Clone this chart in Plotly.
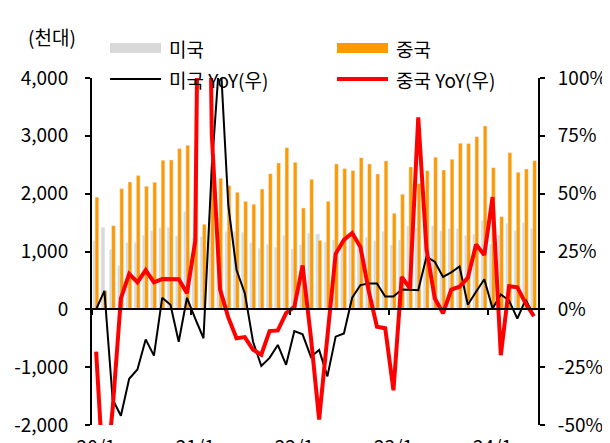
import plotly.graph_objects as go

# ---- data ----
months = [f"{y}/{m}" for y in (20, 21, 22, 23, 24) for m in range(1, 13)][:54]
tick_labels = ["20/1", "21/1", "22/1", "23/1", "24/1"]

us_sales = [1187, 1418, 1038, 755, 1153, 1159, 1274, 1360, 1407, 1418, 1268, 1689,
            1230, 1256, 1600, 1580, 1343, 1343, 1332, 1153, 1055, 1124, 1072, 1280,
            1043, 1112, 1315, 1303, 1164, 1199, 1200, 1230, 1130, 1245, 1187, 1349,
            1112, 1199, 1441, 1400, 1441, 1441, 1355, 1395, 1395, 1274, 1297, 1533,
            1130, 1286, 1488, 1360, 1498, 1395]
china_sales = [1940, 322, 1447, 2087, 2202, 2312, 2128, 2197, 2578, 2583, 2782, 2837,
               2500, 1470, 2520, 2266, 2139, 2024, 1868, 1817, 2081, 2346, 2531, 2796,
               2543, 1753, 2249, 1194, 1868, 2514, 2433, 2398, 2623, 2514, 2341, 2566,
               1661, 1990, 2462, 2173, 2398, 2630, 2410, 2595, 2872, 2866, 2986, 3171,
               2450, 1602, 2709, 2370, 2427, 2571]
us_yoy = [0, 8, -39, -46, -30, -26, -13, -20, 5, 2, -14, 5,
          -4, -12.5, 61, 112, 45, 17, 7, -14, -24.5, -21, -15.4, -24,
          -9.4, -10.8, -20.5, -17.6, -29, -11.8, -10.4, 5, 10.5, 11.2, 11.2, 5.5,
          5.5, 8.6, 8.5, 8.3, 22.7, 20.6, 14, 16, 18.5, 2, 7.6, 13,
          0.4, 6.4, 3.8, -4, 4.2, -2.5]
china_yoy = [-18.3, -79, -43, 4.7, 15.3, 11.7, 17, 11.7, 13.1, 13.1, 13, 7,
             29.5, 365, 76, 8.6, -3.5, -12.5, -12, -17.5, -19.6, -9.4, -9.1, -1.6,
             1.1, 19, -12, -47.6, -12.5, 24, 30, 33, 27, 8, -7.5, -8.2,
             -35, 14, 9.1, 83, 26, 4.8, -1.7, 8.5, 9.8, 13.6, 28, 23.5,
             48.5, -19.8, 10, 9.5, 2.6, -3]

left_ticks = [-2000, -1000, 0, 1000, 2000, 3000, 4000]
left_tick_text = ["-2,000", "-1,000", "0", "1,000", "2,000", "3,000", "4,000"]
right_ticks = [-50, -25, 0, 25, 50, 75, 100]
right_tick_text = ["-50%", "-25%", "0%", "25%", "50%", "75%", "100%"]

series_names = ["미국", "중국", "미국 YoY(우)", "중국 YoY(우)"]
unit_label = "(천대)"

FONT = "Noto Sans CJK KR"
OFF = 8  # page body margin of the browser
W, H = 610 - OFF, 443 - OFF
L, T = 92 - OFF, 78 - OFF
PW, PH = 446, 347
R, B = W - L - PW, H - T - PH


def px(x):
    """reference-window pixel x -> paper fraction"""
    return (x - OFF - L) / PW


def py(y):
    """reference-window pixel y -> paper fraction"""
    return (T + PH - (y - OFF)) / PH


fig = go.Figure()
fig.add_bar(x=months, y=us_sales, name=series_names[0], marker_color="#D9D9D9",
            width=0.45, offset=-0.4, showlegend=False)
fig.add_bar(x=months, y=china_sales, name=series_names[1], marker_color="#FF9900",
            width=0.45, offset=-0.13, showlegend=False)
fig.add_scatter(x=months, y=us_yoy, name=series_names[2], yaxis="y2", mode="lines",
                line=dict(color="black", width=2), showlegend=False)
fig.add_scatter(x=months, y=china_yoy, name=series_names[3], yaxis="y2", mode="lines",
                line=dict(color="#FF0000", width=4), showlegend=False)
# carrier trace for the category axis drawn at zero
fig.add_scatter(x=[], y=[], xaxis="x2", yaxis="y", showlegend=False, hoverinfo="skip")

n = len(months)
fig.update_layout(
    width=W, height=H,
    margin=dict(l=L, r=R, t=T, b=B, pad=0, autoexpand=False),
    paper_bgcolor="white", plot_bgcolor="white",
    barmode="overlay",
    font=dict(family=FONT, size=19, color="black"),
    xaxis=dict(range=[-0.5, n - 0.5], tickmode="array", tickvals=tick_labels,
               ticktext=tick_labels, ticks="", showline=False, showgrid=False,
               zeroline=False, ticklabelstandoff=9, tickfont=dict(size=19),
               automargin=False),
    xaxis2=dict(overlaying="x", anchor="free", position=1 / 3, side="bottom",
                type="linear", range=[-0.5, n - 0.5], tickmode="array",
                tickvals=[months.index(t) - 0.5 for t in tick_labels],
                ticks="outside", ticklen=5, tickwidth=2, tickcolor="black",
                showticklabels=False, showline=True, linecolor="black", linewidth=2,
                showgrid=False, zeroline=False, automargin=False),
    yaxis=dict(range=[-2000, 4000], tickmode="array", tickvals=left_ticks,
               ticktext=left_tick_text, ticks="outside", ticklen=5, tickwidth=2,
               tickcolor="black", showline=True, linecolor="black", linewidth=2,
               showgrid=False, zeroline=False, ticklabelstandoff=13, automargin=False),
    yaxis2=dict(overlaying="y", side="right", range=[-50, 100], tickmode="array",
                tickvals=right_ticks, ticktext=right_tick_text, ticks="outside",
                ticklen=5, tickwidth=2, tickcolor="black", showline=True,
                linecolor="black", linewidth=2, showgrid=False, zeroline=False,
                ticklabelstandoff=9, automargin=False),
)

# header rule
fig.add_shape(type="line", xref="paper", yref="paper", x0=px(8), x1=px(610),
              y0=py(3), y1=py(3), line=dict(color="black", width=3))

# custom legend
sw_x = [(110, 161), (337, 388)]
fig.add_shape(type="rect", xref="paper", yref="paper", x0=px(sw_x[0][0]), x1=px(sw_x[0][1]),
              y0=py(53), y1=py(43), fillcolor="#D9D9D9", line=dict(width=0))
fig.add_shape(type="rect", xref="paper", yref="paper", x0=px(sw_x[1][0]), x1=px(sw_x[1][1]),
              y0=py(53), y1=py(43), fillcolor="#FF9900", line=dict(width=0))
fig.add_shape(type="line", xref="paper", yref="paper", x0=px(sw_x[0][0]), x1=px(sw_x[0][1]),
              y0=py(79), y1=py(79), line=dict(color="black", width=2))
fig.add_shape(type="line", xref="paper", yref="paper", x0=px(sw_x[1][0]), x1=px(sw_x[1][1]),
              y0=py(79), y1=py(79), line=dict(color="#FF0000", width=4))

leg_pos = [(167, 48), (394, 48), (167, 79), (394, 79)]
for name, (lx, ly) in zip(series_names, leg_pos):
    fig.add_annotation(text=name, xref="paper", yref="paper", x=px(lx), y=py(ly),
                       xanchor="left", yanchor="middle", showarrow=False,
                       font=dict(size=19, family=FONT, color="black"))

fig.add_annotation(text=unit_label, xref="paper", yref="paper", x=px(52), y=py(36),
                   xanchor="center", yanchor="middle", showarrow=False,
                   font=dict(size=19, family=FONT, color="black"))

fig.write_html("out.html")
